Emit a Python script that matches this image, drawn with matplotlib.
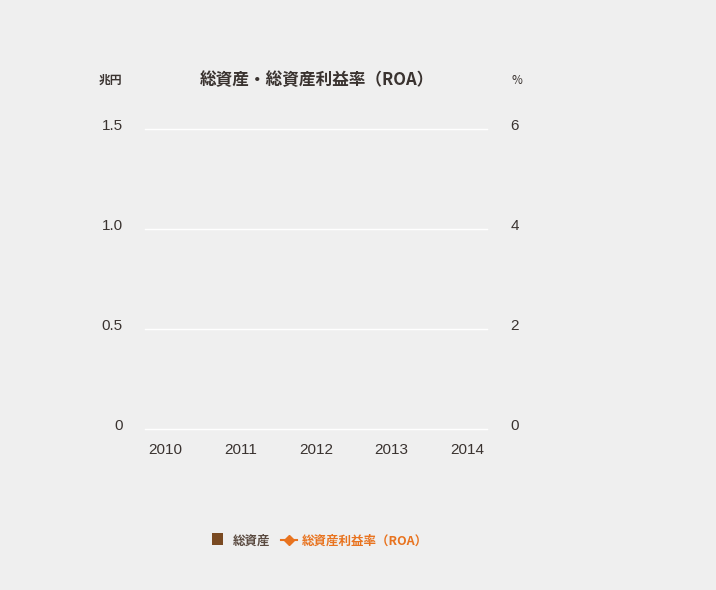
import numpy as np
import matplotlib.pyplot as plt
import matplotlib.transforms as mtransforms
from matplotlib.lines import Line2D
from matplotlib.patches import Patch

plt.rcParams['font.family'] = ['Noto Sans CJK JP', 'DejaVu Sans']

years = ['2010', '2011', '2012', '2013', '2014']
# the reference chart shows no plotted values
total_assets = [np.nan, np.nan, np.nan, np.nan, np.nan]   # 兆円
roa = [np.nan, np.nan, np.nan, np.nan, np.nan]            # %

bg = '#efefef'
text_col = '#3a3330'
brown = '#7a4a22'
orange = '#e8731f'
num_font = 'Liberation Sans'

fig = plt.figure(figsize=(7.16, 5.9), dpi=100, facecolor=bg)
ax = fig.add_axes([145 / 716, 1 - 429 / 590, 342 / 716, 300 / 590])
ax.set_facecolor(bg)

x = np.arange(len(years))
ax.bar(x, total_assets, width=0.5, color=brown, zorder=2)
ax.set_xlim(-0.264, 4.264)
ax.set_ylim(0, 1.5)
ax.set_yticks([0, 0.5, 1.0, 1.5])
ax.set_yticklabels(['0', '0.5', '1.0', '1.5'], fontfamily=num_font)
ax.set_xticks(x)
ax.set_xticklabels(years, fontfamily=num_font)
ax.grid(axis='y', color='white', linewidth=1, zorder=0)
ax.set_axisbelow(True)
for gl in ax.get_ygridlines():
    gl.set_clip_on(False)
for s in ax.spines.values():
    s.set_visible(False)
ax.tick_params(axis='y', length=0, pad=16, labelsize=11, labelcolor=text_col)
ax.tick_params(axis='x', length=0, pad=10, labelsize=11, labelcolor=text_col)

ax2 = ax.twinx()
ax2.plot(x, roa, color=orange, marker='D', markersize=6, linewidth=2, zorder=3)
ax2.set_ylim(0, 6)
ax2.set_yticks([0, 2, 4, 6])
ax2.set_yticklabels(['0', '2', '4', '6'], fontfamily=num_font)
for s in ax2.spines.values():
    s.set_visible(False)
ax2.tick_params(axis='y', length=0, pad=17, labelsize=11, labelcolor=text_col)

# lift the y labels a little above their gridlines, as in the reference
shift = mtransforms.ScaledTranslation(0, 5 / 100, fig.dpi_scale_trans)
for t in ax.yaxis.get_major_ticks():
    t.label1.set_transform(t.label1.get_transform() + shift)
for t in ax2.yaxis.get_major_ticks():
    t.label2.set_transform(t.label2.get_transform() + shift)

fig.text(317 / 716, 1 - 80 / 590, '総資産・総資産利益率（ROA）', ha='center', va='center',
         fontsize=12, fontweight='bold', color=text_col)
fig.text(122 / 716, 1 - 80 / 590, '兆円', ha='right', va='center', fontsize=8.5,
         fontweight='bold', color=text_col)
fig.text(511 / 716, 1 - 80 / 590, '%', ha='left', va='center', fontsize=8.5, color=text_col)

handles = [Patch(facecolor=brown, edgecolor='none'),
           Line2D([0], [0], color=orange, marker='D', markersize=5, linewidth=1.5)]
leg = fig.legend(handles, ['総資産', '総資産利益率（ROA）'], loc='center',
                 bbox_to_anchor=(320 / 716, 1 - 541 / 590), ncol=2, frameon=False,
                 handlelength=1.3, handletextpad=0.4, columnspacing=0.8,
                 prop={'weight': 'bold', 'size': 9})
leg.get_texts()[0].set_color('#5a4a40')
leg.get_texts()[1].set_color(orange)
leg.legend_handles[0].set_width(8)
leg.legend_handles[0].set_height(8)

fig.savefig('out.png', dpi=100, facecolor=bg)
